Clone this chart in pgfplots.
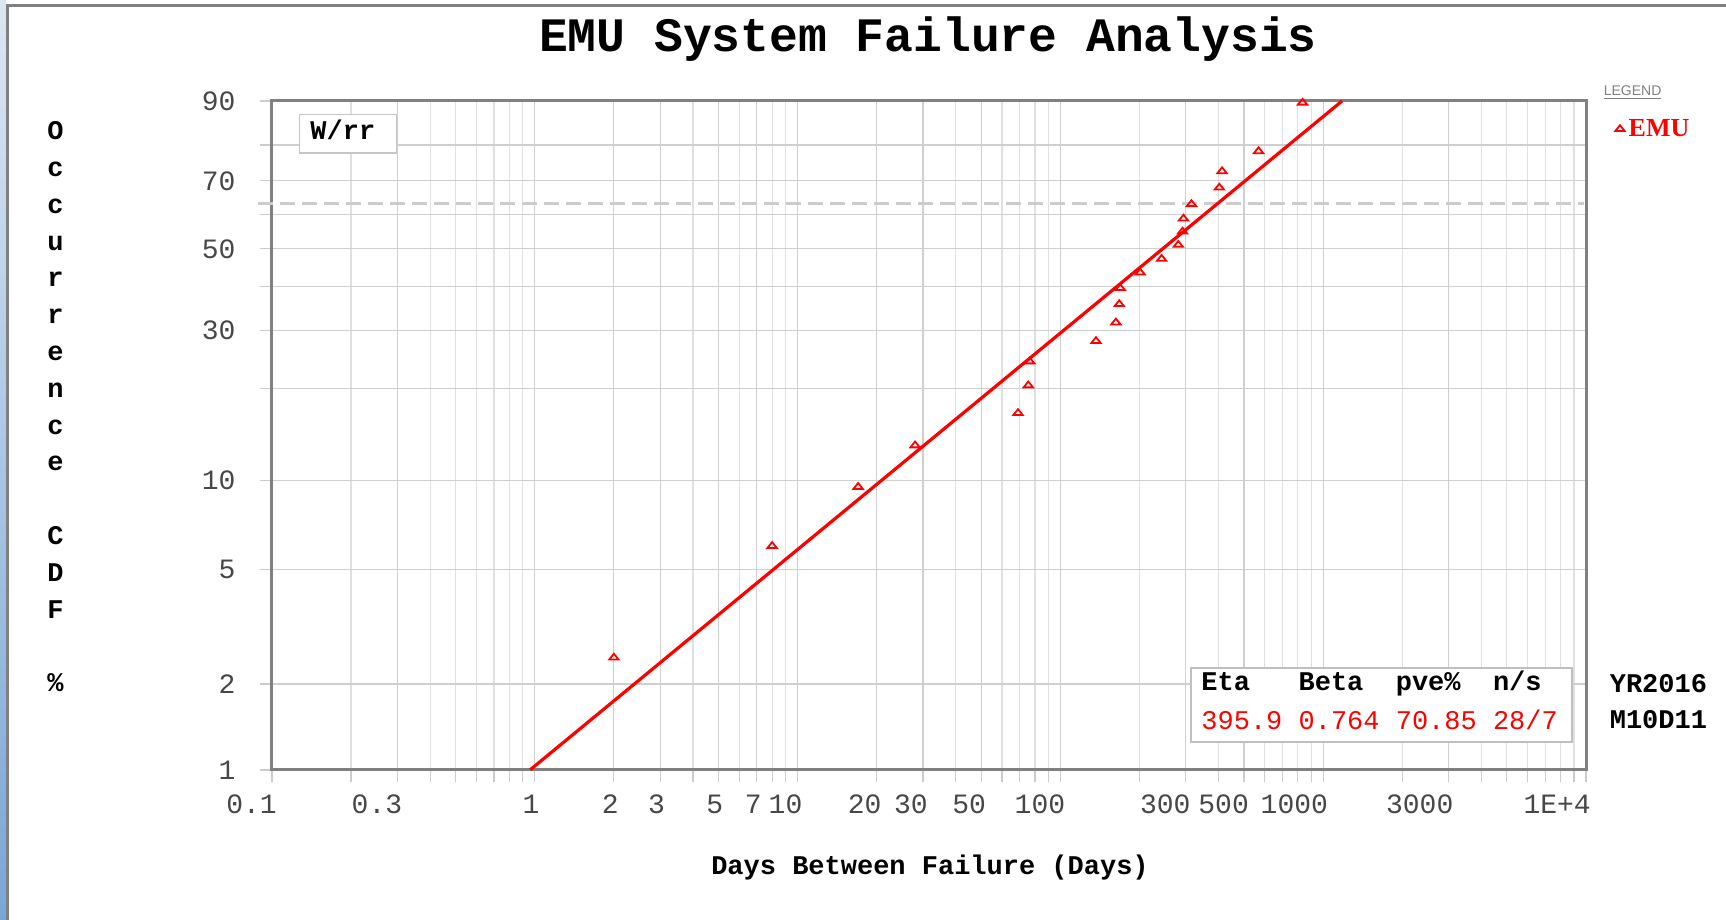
\documentclass[border=0pt]{standalone}
\usepackage{fontspec}
\setmainfont{Liberation Mono}
\newfontfamily\serifb{Liberation Serif}
\newfontfamily\sansf{Liberation Sans}
\usepackage{pgfplots}
\pgfplotsset{compat=1.18}
\usepackage{pgfplotstable}

% Days between failure (t) and occurrence CDF in percent (F)
\pgfplotstableread{
t F
2 2.47
8 6.01
17 9.53
28 13.09
69.0 16.68
75.5 20.41
76.4 24.23
136.6 27.93
162.6 31.67
167.5 35.73
169.0 39.56
201.2 43.52
242.8 47.20
280.9 51.10
291.6 54.93
294.1 58.76
315.4 63.05
402.5 67.99
412.2 72.78
567.5 78.36
835 89.68
}\emudata

% Weibull fit (Eta 395.9, Beta 0.764): end points
\pgfplotstableread{
t F
0.961 1.0
1180 90.0
}\fitline

\definecolor{framegray}{RGB}{128,128,128}

\begin{document}
\begin{tikzpicture}
\useasboundingbox (0pt,0pt) rectangle (863pt,460pt);
\fill[white] (0pt,0pt) rectangle (863pt,460pt);
\shade[top color={rgb,255:red,220;green,230;blue,242}, bottom color={rgb,255:red,122;green,166;blue,214}] (0pt,0pt) rectangle (3pt,460pt);
\draw[framegray, line width=1.4pt] (3.7pt,0pt) -- (3.7pt,457.3pt) -- (863pt,457.3pt);

\begin{axis}[
  at={(136pt,75pt)}, anchor=south west,
  scale only axis, width=657pt, height=334.5pt,
  xmode=log, log basis x=10,
  xmin=0.1, xmax=10000, ymin=-4.6001, ymax=0.8340,
  clip=false,
  xtick={0.1,0.3,1,2,3,5,7,10,20,30,50,100,300,500,1000,3000,10000},
  xticklabels={0.1,0.3,1,2,3,5,7,10,20,30,50,100,300,500,1000,3000,1E+4},
  minor xtick={0.2,0.4,0.5,0.6,0.7,0.8,0.9,4,6,8,9,40,60,70,80,90,200,400,600,700,800,900,2000,4000,5000,6000,7000,8000,9000},
  ytick={-4.6001,-3.9019,-2.9702,-2.2504,-1.4999,-1.0309,-0.6717,-0.3665,-0.0874,0.1856,0.4759,0.8340},
  yticklabels={1,2,5,10,,30,,50,,70,,90},
  grid=both,
  major grid style={gray!38, line width=0.6pt},
  minor grid style={gray!24, line width=0.6pt},
  tick align=outside, tick pos=left,
  major tick length=6pt, minor tick length=6pt,
  tick style={gray!40, line width=0.6pt},
  axis line style={framegray, line width=1.5pt},
  ticklabel style={font=\fontsize{14}{14}\selectfont, text=black!72},
  xticklabel style={anchor=north east, xshift=5.9pt, yshift=-3pt},
  yticklabel style={anchor=east, xshift=-8.7pt},
  legend style={at={(1.022,0.958)}, anchor=west, draw=none, fill=none,
    font=\serifb\bfseries\fontsize{13}{13}\selectfont, text=red,
    inner sep=0pt, legend cell align=left},
]
\addplot[gray!40, line width=1.3pt, dash pattern=on 7.5pt off 3.5pt, forget plot]
  coordinates {(0.0885,0) (9800,0)};
\addplot[red, line width=1.6pt, forget plot]
  table[x=t, y expr={ln(-ln(1-\thisrow{F}/100))}] {\fitline};
\addplot[only marks, red, mark=triangle, mark size=2.7pt,
  mark options={solid, line width=0.9pt, yscale=0.72}]
  table[x=t, y expr={ln(-ln(1-\thisrow{F}/100))}] {\emudata};
\addlegendentry{EMU}
\end{axis}

% title and axis labels
\node[font=\fontsize{24}{24}\selectfont\bfseries] at (464pt,440.4pt) {EMU System Failure Analysis};
\node[font=\fontsize{13.5}{13.5}\selectfont\bfseries] at (465pt,26pt) {Days Between Failure (Days)};
\node[font=\fontsize{13.5}{18.4}\selectfont\bfseries, align=center, inner sep=0pt] at (27.8pt,256.6pt)
  {O\\c\\c\\u\\r\\r\\e\\n\\c\\e\\\mbox{}\\C\\D\\F\\\mbox{}\\\%};

% W/rr box
\draw[gray!45, line width=0.7pt, fill=white] (149.7pt,383.5pt) rectangle (198.2pt,402.8pt);
\node[font=\fontsize{13.5}{13.5}\selectfont\bfseries, anchor=west, inner sep=0pt] at (155pt,395pt) {W/rr};

% legend heading
\node[font=\sansf\fontsize{7}{7}\selectfont, text=gray, inner sep=1pt] at (816.3pt,413.8pt) {\underline{LEGEND}};

% results box
\draw[gray!50, line width=0.7pt, fill=white] (595.5pt,89pt) rectangle (786pt,126pt);
\node[font=\fontsize{13.5}{13.5}\selectfont\bfseries, anchor=west, inner sep=0pt] at (600.5pt,118.2pt) {Eta~~~Beta~~pve\%~~n/s};
\node[font=\fontsize{13.5}{13.5}\selectfont, text=red, anchor=west, inner sep=0pt] at (600.5pt,100pt) {395.9~0.764~70.85~28/7};
\node[font=\fontsize{13.5}{13.5}\selectfont\bfseries, anchor=west, inner sep=0pt] at (804.7pt,118.2pt) {YR2016};
\node[font=\fontsize{13.5}{13.5}\selectfont\bfseries, anchor=west, inner sep=0pt] at (804.7pt,100pt) {M10D11};
\end{tikzpicture}
\end{document}
